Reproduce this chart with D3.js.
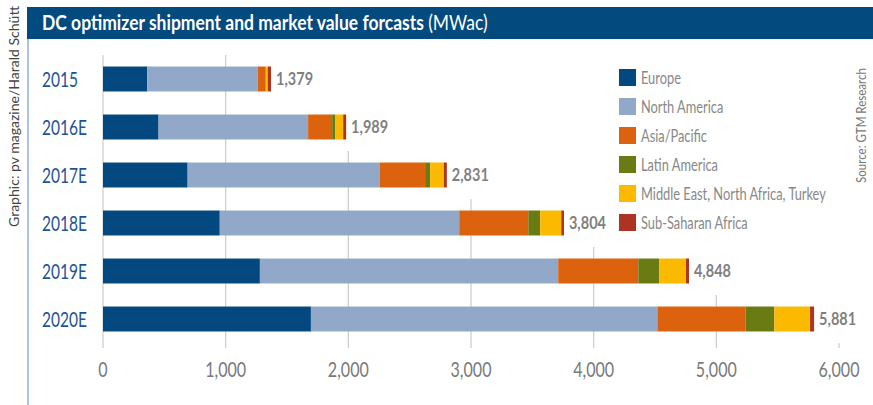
<!DOCTYPE html>
<html>
<head>
<meta charset="utf-8">
<script src="https://cdn.jsdelivr.net/npm/d3@7"></script>
<style>
  body { margin: 0; background: #fff; }
  svg text { font-family: Lato, "Open Sans", sans-serif; }
</style>
</head>
<body>
<div id="chart"></div>
<script>
// data (MWac)
var years = ["2015", "2016E", "2017E", "2018E", "2019E", "2020E"];
var regions = ["Europe", "North America", "Asia/Pacific", "Latin America", "Middle East, North Africa, Turkey", "Sub-Saharan Africa"];
var europe       = [361, 453, 690, 952, 1279, 1695];
var northAmerica = [901, 1219, 1564, 1952, 2432, 2824];
var asiaPacific  = [65, 196, 372, 563, 653, 718];
var latinAmerica = [0, 24, 41, 97, 171, 236];
var menat        = [16, 66, 112, 172, 218, 291];
var subSahara    = [27, 24, 24, 22, 24, 33];
var totals       = [1379, 1989, 2831, 3804, 4848, 5881];
var xTicks       = [0, 1000, 2000, 3000, 4000, 5000, 6000];

var colors = ["#03497f", "#92a8c8", "#dc620e", "#6a7b14", "#fbb900", "#ac3420"];

var width = 873, height = 405;
var series = [europe, northAmerica, asiaPacific, latinAmerica, menat, subSahara];

var rows = years.map(function(y, i) {
  var row = { year: y, total: totals[i] };
  regions.forEach(function(r, j) { row[r] = series[j][i]; });
  return row;
});

// squeeze a group of texts horizontally so that one sample hits a target width
// (the original uses a condensed face we don't have)
function squeeze(sel, sampleIdx, target) {
  var nodes = sel.nodes();
  var r = target / nodes[sampleIdx].getComputedTextLength();
  sel.attr("transform", function() {
    var px = +this.getAttribute("x");
    return "translate(" + px + ",0) scale(" + r + ",1) translate(" + (-px) + ",0)";
  });
}

var svg = d3.select("#chart").append("svg")
  .attr("width", width)
  .attr("height", height);

var x = d3.scaleLinear().domain([0, 6000]).range([103, 839]);
var y = d3.scaleBand().domain(years).range([55, 343]).paddingInner(0.48).paddingOuter(0.24);

var grid = svg.append("g");

// header
svg.append("rect")
  .attr("x", 27).attr("y", 7).attr("width", width - 27).attr("height", 32)
  .attr("fill", "#034a7e");
var title = svg.append("text")
  .attr("x", 42).attr("y", 30)
  .attr("fill", "#fff")
  .attr("font-size", "21px");
title.append("tspan").attr("font-weight", "bold").text("DC optimizer shipment and market value forcasts ");
title.append("tspan").text("(MWac)");
squeeze(title, 0, 446);

// left rule
svg.append("line")
  .attr("x1", 28).attr("x2", 28).attr("y1", 39).attr("y2", height)
  .attr("stroke", "#8fb0d4").attr("stroke-width", 1.5);

// credits
svg.append("text")
  .attr("transform", "translate(19,227) rotate(-90)")
  .attr("font-size", "14px").attr("fill", "#444")
  .attr("textLength", 221).attr("lengthAdjust", "spacingAndGlyphs")
  .text("Graphic: pv magazine/Harald Schütt");
svg.append("text")
  .attr("transform", "translate(866,183) rotate(-90)")
  .attr("font-size", "14px").attr("fill", "#777")
  .attr("textLength", 115).attr("lengthAdjust", "spacingAndGlyphs")
  .text("Source: GTM Research");

var stack = d3.stack().keys(regions)(rows);

// bars
svg.append("g").selectAll("g")
  .data(stack)
  .enter().append("g")
  .attr("fill", function(d, i) { return colors[i]; })
  .selectAll("rect")
  .data(function(d) { return d; })
  .enter().append("rect")
  .attr("x", function(d) { return x(d[0]); })
  .attr("y", function(d) { return y(d.data.year); })
  .attr("width", function(d) { return x(d[1]) - x(d[0]); })
  .attr("height", y.bandwidth());

// value labels
var labels = svg.append("g").selectAll("text")
  .data(rows)
  .enter().append("text")
  .attr("x", function(d) { return x(d3.sum(regions, function(r) { return d[r]; })) + 5; })
  .attr("y", function(d) { return y(d.year) + y.bandwidth() / 2 + 6; })
  .attr("font-size", "17px")
  .attr("font-weight", "bold")
  .attr("fill", "#7f7f7f")
  .text(function(d) { return d3.format(",")(d.total); });
squeeze(labels, 0, 37);

var labelEnds = labels.nodes().map(function(n) { return n.getBoundingClientRect().right; });

// grid: each line starts below the last row whose label crosses it
xTicks.forEach(function(t) {
  var top = 55;
  rows.forEach(function(d, i) {
    var barEnd = x(d3.sum(regions, function(r) { return d[r]; }));
    if (barEnd < x(t) && labelEnds[i] > x(t) - 2) {
      top = y(d.year) + y.bandwidth() + y.step() * 0.24;
    }
  });
  grid.append("line")
    .attr("x1", x(t)).attr("x2", x(t))
    .attr("y1", top).attr("y2", 348)
    .attr("stroke", "#d0d0d0").attr("stroke-width", 1.3);
});

// year labels
var yearLabels = svg.append("g").selectAll("text")
  .data(years)
  .enter().append("text")
  .attr("x", 42)
  .attr("y", function(d) { return y(d) + y.bandwidth() / 2 + 8; })
  .attr("font-size", "22px")
  .attr("fill", "#1d5591")
  .text(function(d) { return d; });
squeeze(yearLabels, 1, 45);

// x axis labels
var tickLabels = svg.append("g").selectAll("text")
  .data(xTicks)
  .enter().append("text")
  .attr("x", function(d) { return x(d); })
  .attr("y", 377)
  .attr("text-anchor", "middle")
  .attr("font-size", "21px")
  .attr("fill", "#7a7a7a")
  .text(function(d) { return d3.format(",")(d); });
squeeze(tickLabels, 6, 41);

// legend
var legend = svg.append("g").selectAll("g")
  .data(regions)
  .enter().append("g")
  .attr("transform", function(d, i) { return "translate(619," + (69 + i * 29) + ")"; });
legend.append("rect")
  .attr("width", 17).attr("height", 17)
  .attr("fill", function(d, i) { return colors[i]; });
var legendText = legend.append("text")
  .attr("x", 22).attr("y", 15)
  .attr("font-size", "17px")
  .attr("fill", "#888")
  .text(function(d) { return d; });
squeeze(legendText, 4, 185);
</script>
</body>
</html>
